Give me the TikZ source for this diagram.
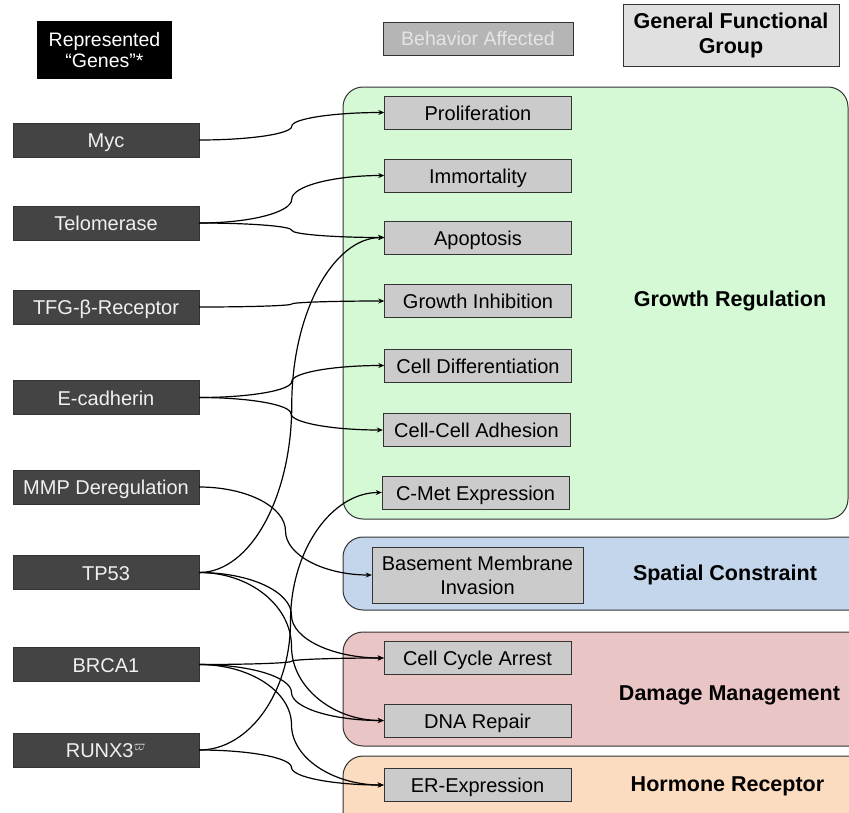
\documentclass[tikz,border=0pt]{standalone}
\usepackage{fontspec}
\setmainfont{Liberation Sans}
\usetikzlibrary{calc,arrows.meta}

\definecolor{genefill}{HTML}{444444}
\definecolor{behavfill}{HTML}{CBCBCB}
\definecolor{hdrfill}{HTML}{B5B5B5}
\definecolor{grpfill}{HTML}{E0E0E0}
\definecolor{growthfill}{HTML}{D5F8D5}
\definecolor{spacefill}{HTML}{C4D6EB}
\definecolor{damagefill}{HTML}{EAC5C6}
\definecolor{hormfill}{HTML}{FBDCC0}
\definecolor{edgegray}{HTML}{333333}

\tikzset{
  gene/.style={rectangle, draw=edgegray, fill=genefill, text=white!94!black,
    minimum width=186pt, minimum height=34pt, inner sep=0pt,
    text height=15.5pt, text depth=0pt,
    font=\fontsize{20}{22}\selectfont},
  behav/.style={rectangle, draw=edgegray, fill=behavfill, text=black,
    minimum width=187pt, minimum height=33pt, inner sep=0pt,
    text height=15.5pt, text depth=0pt,
    font=\fontsize{20}{24}\selectfont},
  grp/.style={draw=edgegray, line width=1pt, rounded corners=20pt},
  grplabel/.style={font=\bfseries\fontsize{21.5}{25}\selectfont},
  link/.style={-{Stealth[length=6pt,width=5pt]}, line width=1.2pt},
}

% curved connector from gene to behavior
\newcommand{\link}[2]{%
  \coordinate (s) at (#1.east);
  \coordinate (t) at (#2.west);
  \coordinate (m) at ($(s)!.5!(t)$);
  \draw[link] (s) .. controls ($(s)!.55!(m |- s)$) and ($(m)!.55!(m |- s)$) .. (m)
    .. controls ($(m)!.55!(m |- t)$) and ($(t)!.55!(m |- t)$) .. (t);}

\begin{document}
\begin{tikzpicture}[x=1pt, y=-1pt]
  \useasboundingbox[fill=white] (0,0) rectangle (849,812);

  % functional groups
  \draw[grp, fill=growthfill] (343,87) rectangle (848,519);
  \draw[grp, fill=spacefill] (343,537) rectangle (875,610);
  \draw[grp, fill=damagefill] (343,632) rectangle (875,746);
  \draw[grp, fill=hormfill] (343,756) rectangle (875,840);

  % headers
  \node[rectangle, fill=black, text=white, minimum width=135pt, minimum height=58pt,
    align=center, font=\fontsize{19.5}{20.5}\selectfont] (genehdr) at (104.5,50)
    {Represented\\“Genes”*};
  \node[rectangle, draw=edgegray, fill=hdrfill, text=white!90!black, minimum width=190pt,
    minimum height=33pt, font=\fontsize{19.5}{22}\selectfont] (behavhdr) at (478,38.5)
    {Behavior Affected};
  \node[rectangle, draw=edgegray, fill=grpfill, minimum width=216pt, minimum height=62pt,
    align=center, grplabel] (grphdr) at (731,35) {General Functional\\Group};

  % genes
  \node[gene] (myc) at (106,140) {Myc};
  \node[gene] (telo) at (106,223) {Telomerase};
  \node[gene] (tgfr) at (106,307) {TFG-β-Receptor};
  \node[gene] (ecad) at (106,397.5) {E-cadherin};
  \node[gene] (mmp) at (106,487) {MMP Deregulation};
  \node[gene] (tp53) at (106,572.5) {TP53};
  \node[gene] (brca) at (106,664.5) {BRCA1};
  \node[gene] (runx) at (106,750) {RUNX3$^{\varpi}$};

  % behaviors
  \node[behav] (prolif) at (478,112.5) {Proliferation};
  \node[behav] (immort) at (478,175.5) {Immortality};
  \node[behav] (apopt) at (478,237.5) {Apoptosis};
  \node[behav] (grinh) at (478,301) {Growth Inhibition};
  \node[behav] (diff) at (478,365.5) {Cell Differentiation};
  \node[behav] (adhes) at (476.5,430) {Cell-Cell Adhesion};
  \node[behav] (cmet) at (475.5,492.5) {C-Met Expression};
  \node[behav, minimum width=211pt, minimum height=56pt, align=center,
    text height=, text depth=] (invas)
    at (477.5,575) {Basement Membrane\\Invasion};
  \node[behav] (arrest) at (477.5,658) {Cell Cycle Arrest};
  \node[behav] (repair) at (477.5,720.5) {DNA Repair};
  \node[behav] (erexp) at (477.5,785) {ER-Expression};

  % group labels
  \node[grplabel] (growth) at (730,301) {Growth Regulation};
  \node[grplabel] (space) at (725,575) {Spatial Constraint};
  \node[grplabel] (damage) at (729.5,695) {Damage Management};
  \node[grplabel] (horm) at (727.5,786) {Hormone Receptor};

  % connectors
  \link{myc}{prolif}
  \link{telo}{immort}
  \link{telo}{apopt}
  \link{tgfr}{grinh}
  \link{ecad}{diff}
  \link{ecad}{adhes}
  \link{mmp}{invas}
  \link{tp53}{apopt}
  \link{tp53}{arrest}
  \link{tp53}{repair}
  \link{brca}{arrest}
  \link{brca}{repair}
  \link{brca}{erexp}
  \link{runx}{cmet}
  \link{runx}{erexp}
\end{tikzpicture}
\end{document}
